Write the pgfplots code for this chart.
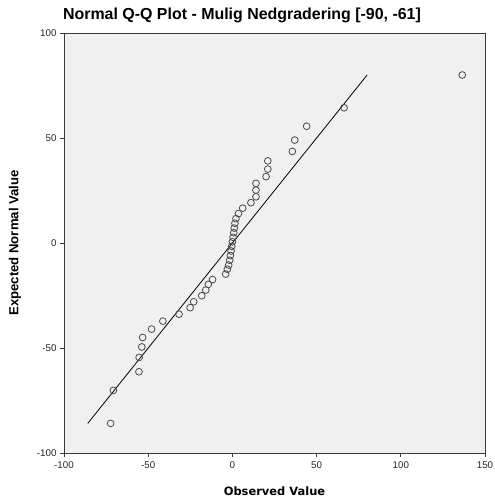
\documentclass[border=0pt]{standalone}
\usepackage{pgfplots}
\pgfplotsset{compat=1.18}
\usepackage{fontspec}
\setmainfont{Liberation Sans}
\newfontfamily\dvs{DejaVu Sans}
\definecolor{bg}{HTML}{F0F0F0}
\definecolor{fr}{HTML}{3A3A3A}
\definecolor{mk}{HTML}{4A4A4A}
\begin{document}
\begin{tikzpicture}
\path[use as bounding box] (-64bp,-48bp) rectangle (431bp,453bp);
\begin{axis}[name=ax, scale only axis, width=421bp, height=420bp,
  at={(0,0)}, anchor=south west,
  xmin=-100, xmax=150, ymin=-100, ymax=100,
  xtick={-100,-50,0,50,100,150}, ytick={-100,-50,0,50,100},
  axis background/.style={fill=bg},
  axis line style={fr, line width=0.8pt},
  tick style={fr, line width=0.8pt},
  tick align=outside, xtick pos=bottom, ytick pos=left, major tick length=4bp,
  ticklabel style={font=\fontsize{9.8}{10}\selectfont, text=black!85},
  xticklabel style={yshift=-1.5bp},
  /pgf/number format/assume math mode=true,
  xlabel={Observed Value}, ylabel={Expected Normal Value},
  xlabel style={font=\dvs\bfseries\fontsize{11.5}{14}\selectfont, at={(0.5,0)}, anchor=center, yshift=-38bp},
  ylabel style={font=\bfseries\fontsize{13.2}{14}\selectfont, at={(0,0.5)}, anchor=center, yshift=49bp},
  clip=false]
\addplot[black, line width=0.8pt] coordinates {(-85.9,-85.9) (80,80)};
\addplot[only marks, mark=o, mark size=3.4bp, mark options={draw=mk, line width=0.8pt}] table {
x y
-72.3 -85.9
-70.7 -70.2
-55.5 -61.3
-55.4 -54.5
-53.8 -49.5
-53.3 -45.0
-48.0 -41.0
-41.3 -37.2
-31.7 -33.9
-25.1 -30.8
-23.0 -28.0
-18.2 -25.1
-15.8 -22.4
-14.3 -19.7
-11.8 -17.4
-4.0 -14.8
-3.0 -12.5
-2.2 -10.5
-1.6 -8.2
-1.2 -6.0
-0.8 -3.8
-0.4 -1.6
0.0 0.6
0.4 2.7
0.8 4.9
1.1 7.1
1.5 9.4
2.1 11.6
3.6 14.0
6.1 16.6
11.0 19.2
14.0 22.0
14.0 25.2
14.0 28.4
20.0 31.6
21.0 35.2
21.0 39.1
35.6 43.6
37.0 49.0
44.1 55.6
66.3 64.4
136.5 80.0
};
\end{axis}
\node[font=\bfseries\fontsize{16}{18}\selectfont] at (178bp,438bp) {Normal Q-Q Plot - Mulig Nedgradering [-90, -61]};
\end{tikzpicture}
\end{document}
